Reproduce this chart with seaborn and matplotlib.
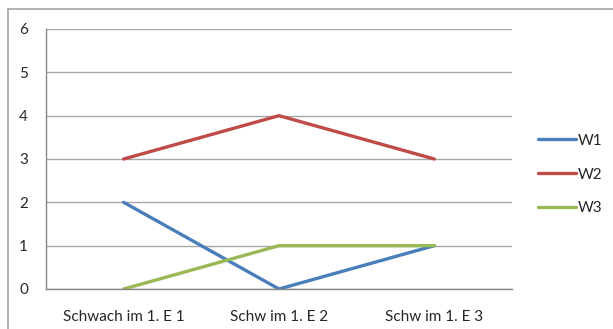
import matplotlib
matplotlib.use("Agg")
import matplotlib.pyplot as plt
from matplotlib.lines import Line2D
import seaborn as sns
import pandas as pd

categories = ["Schwach im 1. E 1", "Schw im 1. E 2", "Schw im 1. E 3"]
w1 = [2, 0, 1]
w2 = [3, 4, 3]
w3 = [0, 1, 1]
series_names = ["W1", "W2", "W3"]
y_ticks = [0, 1, 2, 3, 4, 5, 6]

colors = {"W1": "#4A7EBB", "W2": "#BE4B48", "W3": "#98B954"}

rows = []
for name, vals in zip(series_names, [w1, w2, w3]):
    for i, v in enumerate(vals):
        rows.append({"pos": i, "value": v, "series": name})
df = pd.DataFrame(rows)

sns.set_theme(style="white")
plt.rcParams["font.family"] = ["Lato", "DejaVu Sans"]

fig = plt.figure(figsize=(6.13, 3.29), dpi=100)
ax = fig.add_axes([46 / 613, 1 - 289 / 329, (512 - 46) / 613, (289 - 29) / 329])

sns.lineplot(data=df, x="pos", y="value", hue="series", palette=colors,
             linewidth=2.4, ax=ax, legend=False, sort=False)

ax.set_xlim(-0.5, 2.5)
ax.set_ylim(0, 6)
ax.set_yticks(y_ticks)
ax.set_yticklabels([str(t) for t in y_ticks])
ax.set_xticks([0, 1, 2])
ax.set_xticklabels(categories)
ax.set_xticks([-0.5, 0.5, 1.5, 2.5], minor=True)
ax.tick_params(axis="x", which="major", length=0, pad=15, labelsize=11, colors="#262626")
ax.tick_params(axis="x", which="minor", length=5, width=1, color="#868686", direction="out")
ax.tick_params(axis="y", length=6, width=1, color="#868686", pad=7, labelsize=11, colors="#262626")
ax.set_xlabel("")
ax.set_ylabel("")

ax.yaxis.grid(True, color="#a6a6a6", linewidth=1)
ax.set_axisbelow(True)
for side in ["top", "right"]:
    ax.spines[side].set_visible(False)
for side in ["left", "bottom"]:
    ax.spines[side].set_color("#868686")
    ax.spines[side].set_linewidth(1)

handles = [Line2D([], [], color=colors[n], linewidth=2.4) for n in series_names]
leg = fig.legend(handles, series_names, loc="upper left",
                 bbox_to_anchor=(524 / 613, 1 - 120 / 329), frameon=False,
                 handlelength=2.5, handletextpad=0.1, labelspacing=1.3,
                 fontsize=11)
for t in leg.get_texts():
    t.set_color("#262626")

# chart frame
fig.add_artist(Line2D([8 / 613, 8 / 613], [0, 1 - 9 / 329], transform=fig.transFigure,
                      color="#a6a6a6", linewidth=1.2))
fig.add_artist(Line2D([8 / 613, 1], [1 - 9 / 329, 1 - 9 / 329], transform=fig.transFigure,
                      color="#a6a6a6", linewidth=1.2))

fig.savefig("out.png", dpi=100)
